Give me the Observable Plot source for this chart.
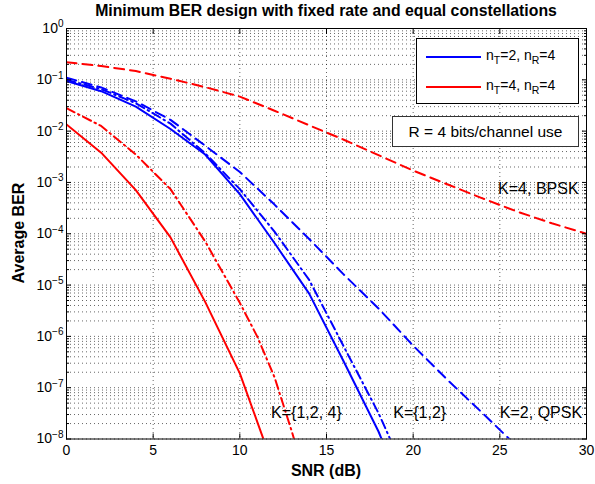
<!DOCTYPE html>
<html><head><meta charset="utf-8">
<script src="https://cdn.jsdelivr.net/npm/d3@7"></script>
<script src="https://cdn.jsdelivr.net/npm/@observablehq/plot@0.6"></script>
<style>
body{margin:0;background:#fff;}
#wrap{position:relative;width:595px;height:484px;font-family:"Liberation Sans",Arial,Helvetica,sans-serif;color:#000;}
#wrap svg{display:block;}
.ov{position:absolute;white-space:nowrap;}
#title{left:0;width:652px;top:2px;text-align:center;font-weight:bold;font-size:15.8px;}
#xlab{left:0;width:652px;top:462px;text-align:center;font-weight:bold;font-size:16px;}
#ylab{left:19px;top:233px;transform:translate(-50%,-50%) rotate(-90deg);font-weight:bold;font-size:16px;}
#legend{left:416px;top:38px;width:161px;height:64px;border:1.2px solid #000;background:#fff;font-size:14px;}
.row{position:absolute;left:0;height:20px;}
.sw{position:absolute;left:9px;top:9px;width:55px;height:2px;}
.lt{position:absolute;left:69px;top:0px;}
.lt sub{font-size:10.5px;vertical-align:-4px;line-height:0;}
#rbox{left:392px;top:116px;width:185px;height:29px;border:1px solid #333;background:#fff;font-size:15.5px;text-align:center;line-height:29px;}
</style></head><body><div id="wrap"></div>
<script>
// ---- data ----
const snrBlueSolid = [0,2,4,6,8,10,12,14,16,18,20];
const berBlueSolid = [9.5e-2,6.0e-2,3.0e-2,1.1e-2,3.5e-3,5.9e-4,6.6e-5,6.8e-6,3.2e-7,1.4e-8,3.2e-10];
const snrBlueDashDot = [0,2,4,6,8,10,12,14,16,18,20];
const berBlueDashDot = [1.0e-1,6.6e-2,3.5e-2,1.4e-2,3.7e-3,7.4e-4,1.1e-4,1.26e-5,6.3e-7,3.2e-8,1e-9];
const snrBlueDashed = [0,2,4,6,8,10,12,14,16,18,20,22,24,26];
const berBlueDashed = [1.1e-1,7.1e-2,3.8e-2,1.66e-2,5.2e-3,1.6e-3,3.7e-4,7.9e-5,1.6e-5,3.5e-6,6.6e-7,1.4e-7,3.2e-8,7.1e-9];
const snrRedSolid = [0,2,4,6,8,10,12];
const berRedSolid = [1.35e-2,3.8e-3,7.1e-4,8.5e-5,4.7e-6,1.9e-7,2.5e-9];
const snrRedDashDot = [0,2,4,6,8,10,11,12,13,14];
const berRedDashDot = [2.8e-2,1.26e-2,3.5e-3,7.4e-4,7.1e-5,4.5e-6,1.0e-6,1.6e-7,1.4e-8,1e-9];
const snrRedDashed = [0,2,4,6,8,10,12,14,16,18,20,22,24,26,28,30];
const berRedDashed = [0.22,0.186,0.148,0.105,7.2e-2,4.7e-2,2.5e-2,1.3e-2,6.8e-3,3.4e-3,1.7e-3,9.1e-4,4.9e-4,2.7e-4,1.6e-4,1.0e-4];

const xTicks = [0,5,10,15,20,25,30];
const yDecades = [1e-8,1e-7,1e-6,1e-5,1e-4,1e-3,1e-2,1e-1,1];
const yMinor = [2,3,4,5,6,7,8,9];

const annLabels = ["K=4, BPSK","K={1,2, 4}","K={1,2}","K=2, QPSK"];
const annX = [24.9,11.8,18.85,25.0];
const annY = [7.6e-4,3.2e-8,3.2e-8,3.2e-8];

const legendLabels = [["n","T","=2, n","R","=4"],["n","T","=4, n","R","=4"]];
const legendColors = ["#0000ff","#ff0000"];
const noteText = "R = 4 bits/channel use";
const titleText = "Minimum BER design with fixed rate and equal constellations";
const xLabel = "SNR (dB)";
const yLabel = "Average BER";

// ---- build ----
const minorTicks = [];
yDecades.slice(0,-1).forEach(d => yMinor.forEach(m => minorTicks.push(d*m)));
const allYGrid = yDecades.concat(minorTicks);

const series = (xs, ys) => xs.map((x,i) => ({x, y: ys[i]}));
const lineOpts = (stroke, dash) => ({x:"x", y:"y", stroke, strokeWidth:2, strokeDasharray:dash, clip:true, strokeLinejoin:"round"});

const grid = {stroke:"#000", strokeOpacity:0.75, strokeWidth:0.8, strokeDasharray:"1,3"};

const chart = Plot.plot({
  width: 595, height: 484,
  marginTop: 28, marginBottom: 45.5, marginLeft: 66, marginRight: 9,
  style: {fontFamily: "'Liberation Sans', Arial, sans-serif", fontSize: "14px", background: "white", color: "black"},
  x: {domain: [0,30], label: null},
  y: {type: "log", domain: [1e-8, 1], label: null},
  marks: [
    Plot.gridY(allYGrid, grid),
    Plot.gridX(xTicks, grid),
    Plot.line(series(snrBlueDashed, berBlueDashed), lineOpts("#0000ff","10,6")),
    Plot.line(series(snrBlueDashDot, berBlueDashDot), lineOpts("#0000ff","9,4,1.5,4")),
    Plot.line(series(snrBlueSolid, berBlueSolid), lineOpts("#0000ff", null)),
    Plot.line(series(snrRedDashed, berRedDashed), lineOpts("#ff0000","10,6")),
    Plot.line(series(snrRedDashDot, berRedDashDot), lineOpts("#ff0000","9,4,1.5,4")),
    Plot.line(series(snrRedSolid, berRedSolid), lineOpts("#ff0000", null)),
    Plot.text(annLabels, {x: (d,i) => annX[i], y: (d,i) => annY[i], text: d => d, textAnchor: "start", fontSize: 16, fill: "black"}),
    Plot.frame({stroke: "black", strokeWidth: 1}),
    Plot.axisX(xTicks, {anchor: "bottom", tickSize: -5, tickPadding: 11, label: null, tickFormat: d => String(d)}),
    Plot.axisX(xTicks, {anchor: "top", tickSize: -5, label: null, tickFormat: () => ""}),
    Plot.axisY(yDecades, {anchor: "left", tickSize: -5, tickPadding: 8, label: null, tickFormat: d => "10^" + Math.round(Math.log10(d))}),
    Plot.axisY(minorTicks, {anchor: "left", tickSize: -3, label: null, tickFormat: () => ""}),
    Plot.axisY(yDecades, {anchor: "right", tickSize: -5, label: null, tickFormat: () => ""}),
    Plot.axisY(minorTicks, {anchor: "right", tickSize: -3, label: null, tickFormat: () => ""})
  ]
});

// superscript exponents on y tick labels
d3.select(chart).selectAll("g[aria-label='y-axis tick label'] text").each(function() {
  const t = d3.select(this);
  const s = t.text();
  if (!s.startsWith("10^")) return;
  const e = s.slice(3).replace("-", "\u2212");
  t.text("10");
  t.append("tspan").attr("dy", "-0.55em").attr("font-size", "10px").text(e);
});

const wrap = document.getElementById("wrap");
wrap.appendChild(chart);

function addDiv(id, html) {
  const d = document.createElement("div");
  d.className = "ov"; d.id = id; d.innerHTML = html; wrap.appendChild(d); return d;
}
addDiv("title", titleText);
addDiv("xlab", xLabel);
addDiv("ylab", yLabel);
const lg = addDiv("legend", "");
legendLabels.forEach((parts, i) => {
  const r = document.createElement("div");
  r.className = "row"; r.style.top = (8 + i*30) + "px"; r.style.width = "100%";
  r.innerHTML = `<div class="sw" style="background:${legendColors[i]}"></div><div class="lt">${parts[0]}<sub>${parts[1]}</sub>${parts[2]}<sub>${parts[3]}</sub>${parts[4]}</div>`;
  lg.appendChild(r);
});
addDiv("rbox", noteText);
</script></body></html>
